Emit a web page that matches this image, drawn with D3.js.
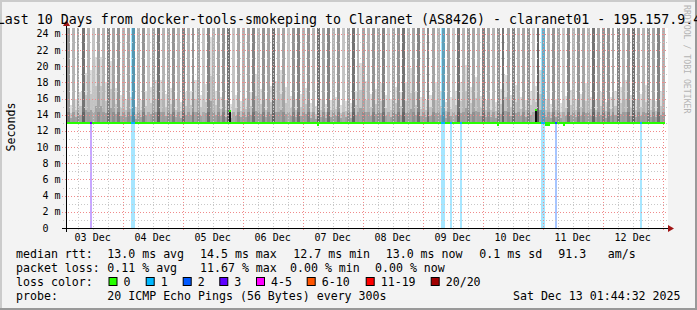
<!DOCTYPE html>
<html>
<head>
<meta charset="utf-8">
<script src="https://cdn.jsdelivr.net/npm/d3@7"></script>
<style>
  body { margin: 0; background: #f3f3f3; }
  svg { display: block; }
  text { font-family: "DejaVu Sans Mono", monospace; white-space: pre; }
</style>
</head>
<body>
<div id="chart"></div>
<script>
const rangeStart = new Date(2025, 11, 3, 1, 44, 32);
const rangeEnd = new Date(2025, 11, 13, 1, 44, 32);
const dayLabels = ['03 Dec', '04 Dec', '05 Dec', '06 Dec', '07 Dec', '08 Dec', '09 Dec', '10 Dec', '11 Dec', '12 Dec'];
const yTicks = [0, 2, 4, 6, 8, 10, 12, 14, 16, 18, 20, 22, 24];
const medianAvg = 13.0;

// top of the smoke (ms) in the quiet hour of each 2 hour slot, one row per day
const smokeTop = [
  15.2, 16.0, 16.8, 19.2, 19.5, 21.2, 21.2, 18.0, 20.6, 17.3, 16.4, 15.9,
  16.2, 15.0, 15.8, 16.9, 17.5, 18.3, 18.3, 16.6, 17.3, 16.0, 15.6, 16.8,
  17.0, 18.3, 16.5, 17.8, 23.6, 17.0, 16.2, 15.8, 15.3, 16.4, 15.7, 16.1,
  16.8, 19.0, 17.2, 16.0, 17.6, 18.2, 19.6, 17.4, 16.3, 15.9, 16.6, 17.3,
  15.5, 15.1, 16.0, 15.4, 15.8, 16.2, 15.2, 15.7, 15.5, 17.0, 20.4, 18.2,
  16.6, 17.2, 17.9, 16.4, 16.0, 17.5, 16.8, 18.0, 19.8, 17.0, 16.2, 15.8,
  16.5, 18.1, 16.9, 15.6, 16.2, 17.0, 18.0, 20.2, 17.4, 18.7, 16.3, 15.8,
  16.0, 15.6, 17.2, 18.9, 16.5, 17.7, 16.2, 15.8, 17.0, 17.6, 19.6, 16.0,
  15.4, 16.0, 15.5, 16.3, 17.1, 16.0, 16.6, 17.9, 16.2, 15.8, 16.8, 15.6,
  16.2, 16.9, 17.5, 18.3, 16.4, 15.9, 16.6, 17.7, 16.0, 15.7, 16.9, 18.1
];

// pings (of 20) above the top of the graph in the busy hour of each slot
const spikePings = [
  6, 4, 5, 8, 4, 3, 5, 4, 7, 5, 6, 4,
  5, 7, 4, 6, 3, 5, 8, 4, 5, 6, 4, 7,
  4, 6, 5, 3, 7, 4, 5, 6, 8, 3, 5, 4,
  5, 7, 4, 6, 5, 8, 4, 5, 3, 6, 7, 4,
  6, 4, 8, 5, 7, 4, 6, 3, 5, 8, 4, 5,
  4, 6, 5, 7, 3, 5, 6, 8, 4, 5, 7, 4,
  7, 5, 4, 6, 5, 3, 8, 4, 6, 5, 4, 7,
  5, 4, 6, 8, 5, 7, 4, 5, 6, 3, 9, 5,
  4, 6, 5, 3, 7, 4, 6, 5, 4, 8, 5, 6,
  6, 5, 7, 4, 6, 8, 5, 4, 6, 5, 7, 4
];

const medianShifts = [
  { at: '2025-12-05T18:30', hours: 0.8, ms: 14.5 },
  { at: '2025-12-07T05:45', hours: 0.8, ms: 12.8 },
  { at: '2025-12-10T05:45', hours: 0.8, ms: 12.8 },
  { at: '2025-12-10T21:00', hours: 0.8, ms: 14.6 },
  { at: '2025-12-11T01:00', hours: 2.0, ms: 12.75 },
  { at: '2025-12-11T08:00', hours: 0.8, ms: 12.8 }
];

const lossEvents = [
  { at: '2025-12-03T10:45', hours: 0.8, lost: 3, full: false },
  { at: '2025-12-04T03:10', hours: 1.6, lost: 1, full: true },
  { at: '2025-12-09T07:30', hours: 1.6, lost: 1, full: true },
  { at: '2025-12-09T11:00', hours: 0.8, lost: 1, full: false },
  { at: '2025-12-09T15:00', hours: 0.8, lost: 1, full: false },
  { at: '2025-12-10T23:30', hours: 1.6, lost: 1, full: true },
  { at: '2025-12-11T05:00', hours: 0.8, lost: 2, full: false },
  { at: '2025-12-12T15:00', hours: 0.8, lost: 1, full: false }
];

const lossLabels = ['0', '1', '2', '3', '4-5', '6-10', '11-19', '20/20'];
const lossColors = ['#26ff00', '#00b8ff', '#0059ff', '#5e00ff', '#ff00ff', '#ff5500', '#ff0000', '#a10000'];

const W = 697, H = 310;
const svg = d3.select('#chart').append('svg').attr('width', W).attr('height', H);

const x = d3.scaleTime().domain([rangeStart, rangeEnd]).range([67, 667]);
const y = d3.scaleLinear().domain([0, 24.74]).range([228, 28]);
const spikeShade = d3.scaleLinear().domain([0, 10]).range(['#f2f2f2', '#555555']);
const lossColor = d3.scaleOrdinal().domain([0, 1, 2, 3, 4, 5, 6, 7]).range(lossColors);
const lossBucket = n => n <= 3 ? n : n <= 5 ? 4 : n <= 10 ? 5 : n <= 19 ? 6 : 7;

// frame
svg.append('rect').attr('width', W).attr('height', H).attr('fill', '#f3f3f3');
svg.append('rect').attr('width', W).attr('height', 2).attr('fill', '#cbcbcb');
svg.append('rect').attr('width', 2).attr('height', H).attr('fill', '#cbcbcb');
svg.append('rect').attr('x', W - 2).attr('width', 2).attr('height', H).attr('fill', '#999');
svg.append('rect').attr('y', H - 2).attr('width', W).attr('height', 2).attr('fill', '#999');

svg.append('rect')
  .attr('x', 66).attr('y', y.range()[1])
  .attr('width', 602).attr('height', y.range()[0] - y.range()[1])
  .attr('fill', '#fff');

// smoke
const smokeLayers = [
  { f: 1.0, color: '#dedede' },
  { f: 0.55, color: '#c4c4c4' },
  { f: 0.25, color: '#a2a2a2' }
];
const slots = smokeTop.map((top, i) => ({
  t0: d3.timeHour.offset(rangeStart, 2 * i),
  top: top,
  spike: spikePings[i]
}));
const smoke = svg.append('g').attr('shape-rendering', 'crispEdges');
slots.forEach(s => {
  const t1 = d3.timeHour.offset(s.t0, 1);
  const t2 = d3.timeHour.offset(s.t0, 2);
  const x0 = Math.round(x(s.t0)), x1 = Math.round(x(t1)), x2 = Math.min(Math.round(x(t2)), 665);
  const base = y(medianAvg);
  const shade = spikeShade(s.spike);
  smoke.append('rect').attr('x', x0).attr('width', x1 - x0)
    .attr('y', y.range()[1]).attr('height', base - y.range()[1]).attr('fill', shade);
  smoke.append('rect').attr('x', x0).attr('width', x1 - x0)
    .attr('y', y(medianAvg + 1.4)).attr('height', base - y(medianAvg + 1.4))
    .attr('fill', d3.color(shade).darker(0.4));
  smokeLayers.forEach(l => {
    const top = medianAvg + (s.top - medianAvg) * l.f;
    smoke.append('rect').attr('x', x1).attr('width', x2 - x1)
      .attr('y', y(top)).attr('height', base - y(top)).attr('fill', l.color);
  });
});

// loss bars
const lossG = svg.append('g').attr('shape-rendering', 'crispEdges');
lossEvents.forEach(e => {
  const t0 = new Date(e.at);
  const t1 = new Date(t0.getTime() + e.hours * 3600e3);
  const c = lossColor(lossBucket(e.lost));
  const top = e.full ? y.range()[1] : y(medianAvg);
  lossG.append('rect').attr('x', x(t0)).attr('width', x(t1) - x(t0))
    .attr('y', top).attr('height', y(0) - top)
    .attr('fill', c).attr('fill-opacity', 0.35);
});

// grid
const grid = svg.append('g').attr('stroke-width', 1).attr('stroke-dasharray', '1,2');
const minorY = d3.range(1, 25, 2);
minorY.forEach(v => {
  grid.append('line').attr('x1', 63).attr('x2', 668)
    .attr('y1', Math.round(y(v)) + 0.5).attr('y2', Math.round(y(v)) + 0.5)
    .attr('stroke', '#c8c8c8');
});
yTicks.slice(1).forEach(v => {
  grid.append('line').attr('x1', 62).attr('x2', 668)
    .attr('y1', Math.round(y(v)) + 0.5).attr('y2', Math.round(y(v)) + 0.5)
    .attr('stroke', '#f08a8a');
});
d3.timeHour.every(6).range(rangeStart, rangeEnd).forEach(t => {
  const midnight = t.getHours() === 0;
  grid.append('line')
    .attr('x1', Math.round(x(t)) + 0.5).attr('x2', Math.round(x(t)) + 0.5)
    .attr('y1', 28).attr('y2', midnight ? 232 : 231)
    .attr('stroke', midnight ? '#f08a8a' : '#c8c8c8');
});

// median line
const med = svg.append('g').attr('shape-rendering', 'crispEdges');
med.append('rect').attr('x', 67).attr('width', 598)
  .attr('y', y(medianAvg) - 1).attr('height', 2).attr('fill', lossColors[0]);
medianShifts.forEach(m => {
  const t0 = new Date(m.at);
  const t1 = new Date(t0.getTime() + m.hours * 3600e3);
  if (m.ms > medianAvg) {
    med.append('rect').attr('x', x(t0)).attr('width', x(t1) - x(t0))
      .attr('y', y(m.ms)).attr('height', y(medianAvg) - y(m.ms) - 1).attr('fill', '#111');
  }
  med.append('rect').attr('x', x(t0)).attr('width', x(t1) - x(t0))
    .attr('y', y(m.ms) - 1).attr('height', 2).attr('fill', lossColors[0]);
});
lossEvents.forEach(e => {
  const t0 = new Date(e.at);
  const t1 = new Date(t0.getTime() + e.hours * 3600e3);
  med.append('rect').attr('x', x(t0)).attr('width', x(t1) - x(t0))
    .attr('y', y(medianAvg) - 1).attr('height', 2).attr('fill', lossColor(lossBucket(e.lost)));
});

// axes
const axis = svg.append('g').attr('shape-rendering', 'crispEdges');
axis.append('line').attr('x1', 62).attr('x2', 669).attr('y1', 228.5).attr('y2', 228.5).attr('stroke', '#000');
axis.append('line').attr('x1', 66.5).attr('x2', 66.5).attr('y1', 232).attr('y2', 24).attr('stroke', '#000');
svg.append('path').attr('d', 'M668,225L674,228.5L668,232Z').attr('fill', '#a01414');
svg.append('path').attr('d', 'M63,26L66.5,20L70,26Z').attr('fill', '#a01414');

svg.append('g').selectAll('text').data(yTicks).enter()
  .append('text')
  .attr('x', 60.5).attr('y', d => y(d) + 3.5)
  .attr('text-anchor', 'end')
  .attr('font-size', '10px')
  .text(d => d === 0 ? '0  ' : d + ' m');

svg.append('g').selectAll('text').data(dayLabels).enter()
  .append('text')
  .attr('x', (d, i) => x(new Date(2025, 11, 3 + i, 12)))
  .attr('y', 241)
  .attr('text-anchor', 'middle')
  .attr('font-size', '10px')
  .text(d => d);

// titles
svg.append('text')
  .attr('x', 349).attr('y', 23.5)
  .attr('text-anchor', 'middle')
  .attr('font-size', '13.3px')
  .text('Last 10 Days from docker-tools-smokeping to Claranet (AS8426) - claranet01 - 195.157.9.4');

svg.append('text')
  .attr('transform', 'translate(15,127) rotate(-90)')
  .attr('text-anchor', 'middle')
  .attr('font-size', '11.6px')
  .text('Seconds');

svg.append('text')
  .attr('transform', 'translate(683.5,5) rotate(90)')
  .attr('font-size', '8.2px')
  .attr('fill', '#b4b4b4')
  .text('RRDTOOL / TOBI OETIKER');

// legend
const leg = svg.append('g').attr('font-size', '11.6px');
const put = (px, py, s) => leg.append('text').attr('x', px).attr('y', py).text(s);
put(16, 258, 'median rtt:');
put(107.3, 258, '13.0 ms avg');
put(200, 258, '14.5 ms max');
put(293.3, 258, '12.7 ms min');
put(385.7, 258, '13.0 ms now');
put(479.3, 258, '0.1 ms sd');
put(558.3, 258, '91.3');
put(607.7, 258, 'am/s');

put(16, 272, 'packet loss:');
put(107.3, 272, '0.11 % avg');
put(200, 272, '11.67 % max');
put(290, 272, '0.00 % min');
put(375, 272, '0.00 % now');

put(16, 286, 'loss color:');
const boxX = [108.5, 145.7, 182.7, 219.3, 256, 306.7, 365.7, 430.7];
lossLabels.forEach((lab, i) => {
  leg.append('rect').attr('x', boxX[i] + 0.5).attr('y', 277.5)
    .attr('width', 8).attr('height', 8)
    .attr('fill', lossColors[i]).attr('stroke', '#000');
  put(boxX[i] + 15, 286, lab);
});

put(16, 300, 'probe:');
put(107.3, 300, '20 ICMP Echo Pings (56 Bytes) every 300s');
leg.append('text').attr('x', 680.5).attr('y', 300).attr('text-anchor', 'end')
  .text('Sat Dec 13 01:44:32 2025');
</script>
</body>
</html>
